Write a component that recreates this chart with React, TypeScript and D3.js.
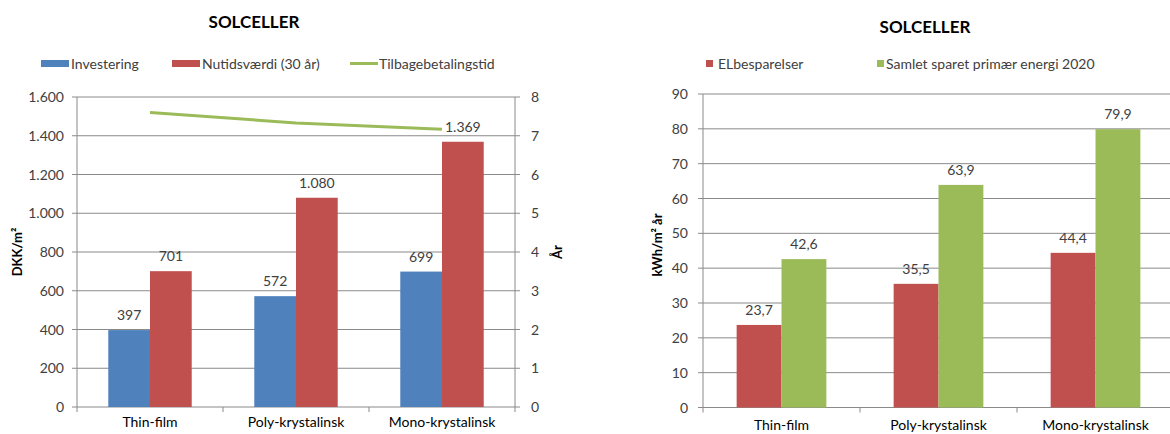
import React from "react";
import * as d3 from "d3";

const categories = ["Thin-film", "Poly-krystalinsk", "Mono-krystalinsk"];
const investering = [397, 572, 699];
const nutidsvaerdi = [701, 1080, 1369];
const tilbagebetalingstid = [7.6, 7.33, 7.17];
const elbesparelser = [23.7, 35.5, 44.4];
const samletSparet = [42.6, 63.9, 79.9];
const leftTicks = [0, 200, 400, 600, 800, 1000, 1200, 1400, 1600];
const yearTicks = [0, 1, 2, 3, 4, 5, 6, 7, 8];
const energyTicks = [0, 10, 20, 30, 40, 50, 60, 70, 80, 90];

const leftLegend = ["Investering", "Nutidsværdi (30 år)", "Tilbagebetalingstid"];
const rightLegend = ["ELbesparelser", "Samlet sparet primær energi 2020"];

const BLUE = "#4F81BD";
const RED = "#C0504D";
const GREEN = "#9BBB59";
const GRID = "#8a8a8a";
const TXT = "#404040";
const FONT = "Lato, 'Open Sans', sans-serif";
const FS = 14;

const loc = d3.formatLocale({ decimal: ",", thousands: ".", grouping: [3], currency: ["", " kr"] });
const fmtInt = loc.format(",d");
const fmt1 = loc.format(".1f");

function LeftChart() {
  const L = 77, R = 515, T = 97, B = 407;
  const x = d3.scaleBand<string>().domain(categories).range([L, R]).padding(0);
  const y = d3.scaleLinear().domain([0, 1600]).range([B, T]);
  const y2 = d3.scaleLinear().domain([0, 8]).range([B, T]);
  const barW = x.bandwidth() / 3.5;
  const s = d3.scaleBand<number>().domain([0, 1]).range([0, 2 * barW]);
  const cx = (c: string) => (x(c) as number) + x.bandwidth() / 2;
  const series = [investering, nutidsvaerdi];
  const colors = [BLUE, RED];
  const line = d3
    .line<number>()
    .x((_, i) => cx(categories[i]))
    .y((d) => y2(d));
  const catEdges = [L, ...categories.map((c) => (x(c) as number) + x.bandwidth())];
  return (
    <g>
      <text x={254} y={28} textAnchor="middle" fontSize={17} fontWeight="bold" fill="#000">SOLCELLER</text>
      {/* legend */}
      <rect x={41} y={60} width={28} height={7} fill={BLUE} />
      <text x={71} y={68.5} fontSize={FS} fill={TXT}>{leftLegend[0]}</text>
      <rect x={172} y={60} width={28} height={7} fill={RED} />
      <text x={202} y={68.5} fontSize={FS} fill={TXT}>{leftLegend[1]}</text>
      <line x1={350} x2={378} y1={63.5} y2={63.5} stroke={GREEN} strokeWidth={3} />
      <text x={379} y={68.5} fontSize={FS} fill={TXT}>{leftLegend[2]}</text>
      {/* grid */}
      {leftTicks.map((t) => (
        <g key={t}>
          <line x1={L - 5} x2={R + 5} y1={y(t)} y2={y(t)} stroke={GRID} strokeWidth={1} />
          <text x={64} y={y(t) + 5} textAnchor="end" fontSize={FS} fill={TXT}>{fmtInt(t)}</text>
        </g>
      ))}
      {yearTicks.map((t) => (
        <text key={t} x={531} y={y2(t) + 5} fontSize={FS} fill={TXT}>{t}</text>
      ))}
      <line x1={L} x2={L} y1={T} y2={B} stroke={GRID} />
      <line x1={R} x2={R} y1={T} y2={B} stroke={GRID} />
      {catEdges.map((e, i) => (
        <line key={i} x1={e} x2={e} y1={B} y2={B + 5} stroke={GRID} />
      ))}
      {/* bars */}
      {series.map((vals, si) =>
        vals.map((v, i) => {
          const bx = cx(categories[i]) - barW + (s(si) as number);
          return (
            <g key={si + "-" + i}>
              <rect x={bx} y={y(v)} width={barW} height={B - y(v)} fill={colors[si]} />
              <text x={bx + barW / 2} y={y(v) - 10} textAnchor="middle" fontSize={FS} fill={TXT}>{fmtInt(v)}</text>
            </g>
          );
        })
      )}
      <path d={line(tilbagebetalingstid) as string} fill="none" stroke={GREEN} strokeWidth={3} />
      {categories.map((c) => (
        <text key={c} x={cx(c)} y={427} textAnchor="middle" fontSize={FS} fill="#000">{c}</text>
      ))}
      <text transform={`translate(22,252) rotate(-90)`} textAnchor="middle" fontSize={13} fontWeight="bold" fill="#000">
        DKK/m²
      </text>
      <text transform={`translate(562,252) rotate(-90)`} textAnchor="middle" fontSize={13} fontWeight="bold" fill="#000">
        År
      </text>
    </g>
  );
}

function RightChart() {
  const L = 703, R = 1174, T = 94, B = 407.5;
  const x = d3.scaleBand<string>().domain(categories).range([L, R]).padding(0);
  const y = d3.scaleLinear().domain([0, 90]).range([B, T]);
  const barW = x.bandwidth() / 3.5;
  const s = d3.scaleBand<number>().domain([0, 1]).range([0, 2 * barW]);
  const cx = (c: string) => (x(c) as number) + x.bandwidth() / 2;
  const series = [elbesparelser, samletSparet];
  const colors = [RED, GREEN];
  const catEdges = [L, ...categories.map((c) => (x(c) as number) + x.bandwidth())];
  return (
    <g>
      <text x={925} y={33} textAnchor="middle" fontSize={17} fontWeight="bold" fill="#000">SOLCELLER</text>
      <rect x={706} y={60} width={7} height={7} fill={RED} />
      <text x={718} y={68.5} fontSize={FS} fill={TXT}>{rightLegend[0]}</text>
      <rect x={877} y={60} width={7} height={7} fill={GREEN} />
      <text x={886} y={68.5} fontSize={FS} fill={TXT}>{rightLegend[1]}</text>
      {energyTicks.map((t) => (
        <g key={t}>
          <line x1={L - 5} x2={R} y1={y(t)} y2={y(t)} stroke={GRID} strokeWidth={1} />
          <text x={688} y={y(t) + 5} textAnchor="end" fontSize={FS} fill={TXT}>{t}</text>
        </g>
      ))}
      <line x1={L} x2={L} y1={T} y2={B} stroke={GRID} />
      {catEdges.map((e, i) => (
        <line key={i} x1={e} x2={e} y1={B} y2={B + 5} stroke={GRID} />
      ))}
      {series.map((vals, si) =>
        vals.map((v, i) => {
          const bx = cx(categories[i]) - barW + (s(si) as number);
          return (
            <g key={si + "-" + i}>
              <rect x={bx} y={y(v)} width={barW} height={B - y(v)} fill={colors[si]} />
              <text x={bx + barW / 2} y={y(v) - 10} textAnchor="middle" fontSize={FS} fill={TXT}>{fmt1(v)}</text>
            </g>
          );
        })
      )}
      {categories.map((c) => (
        <text key={c} x={cx(c)} y={430} textAnchor="middle" fontSize={FS} fill="#000">{c}</text>
      ))}
      <text transform={`translate(662,245) rotate(-90)`} textAnchor="middle" fontSize={13} fontWeight="bold" fill="#000">
        kWh/m² år
      </text>
    </g>
  );
}

export default function App() {
  return (
    <svg
      width={1170}
      height={434}
      style={{ position: "absolute", left: 0, top: 0, background: "#fff" }}
      fontFamily={FONT}
    >
      <rect width={1170} height={434} fill="#fff" />
      <LeftChart />
      <RightChart />
    </svg>
  );
}
